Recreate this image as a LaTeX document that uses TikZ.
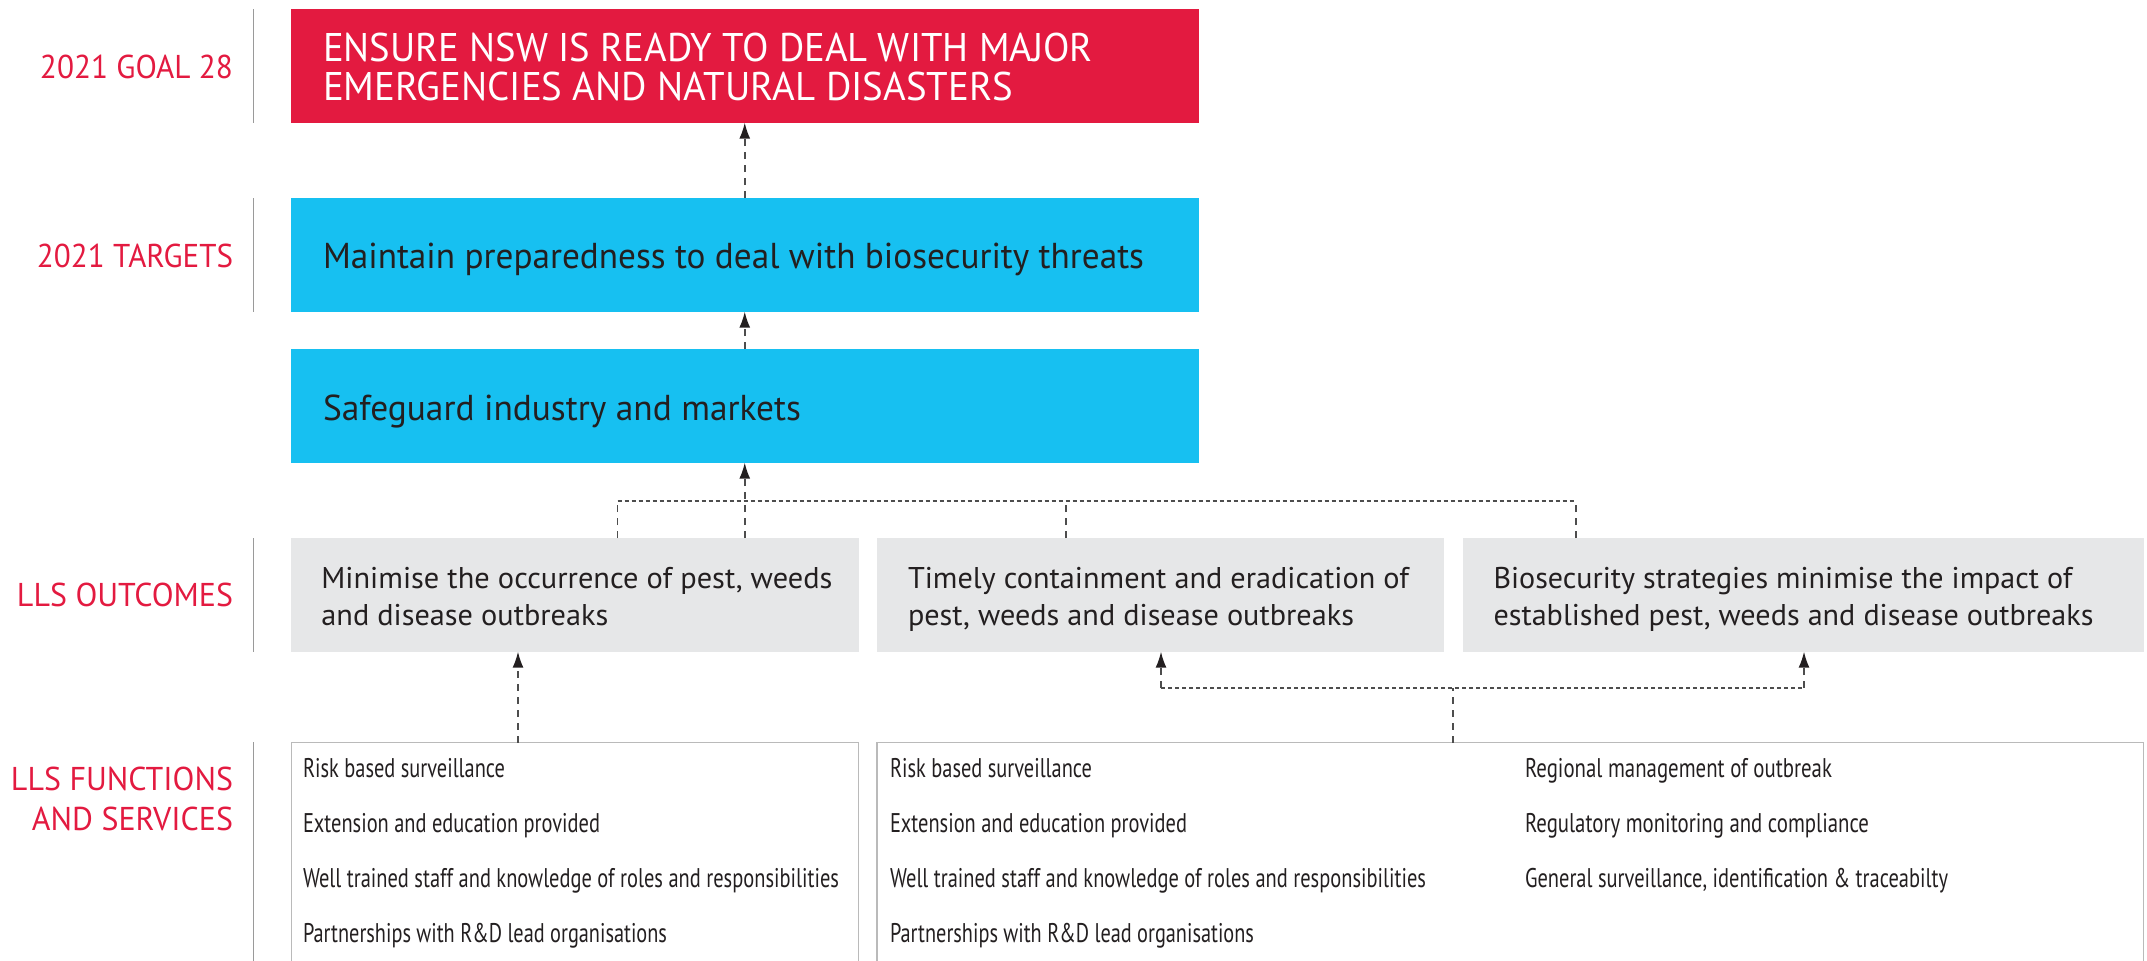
\documentclass[tikz,border=0pt]{standalone}
\usepackage{fontspec}
\setmainfont{PT Sans}
\usetikzlibrary{arrows.meta}
\definecolor{nswred}{HTML}{E31A40}
\definecolor{nswblue}{HTML}{17C0F1}
\definecolor{boxgray}{HTML}{E6E7E8}
\definecolor{ink}{HTML}{231F20}
\definecolor{rulegray}{HTML}{9A9A9A}
\definecolor{bordergray}{HTML}{BABABA}
\definecolor{linkgray}{HTML}{4D4D4D}
\newcommand\fw[2]{\resizebox{#1pt}{\height}{#2}}
\begin{document}
\begin{tikzpicture}[x=1pt,y=-1pt,
  every node/.style={inner sep=0pt, outer sep=0pt},
  lbl/.style={anchor=base east, text=nswred, font=\fontsize{33}{40}\selectfont},
  sep/.style={draw=rulegray, line width=1pt},
  rect/.style={anchor=north west, draw=none},
  redbox/.style={rect, fill=nswred},
  bluebox/.style={rect, fill=nswblue},
  graybox/.style={rect, fill=boxgray},
  listbox/.style={rect, draw=bordergray, line width=1.5pt, fill=white},
  goaltxt/.style={anchor=base west, text=white, font=\fontsize{40}{40}\selectfont},
  targettxt/.style={anchor=base west, text=ink, font=\fontsize{36}{40}\selectfont},
  outtxt/.style={anchor=base west, text=ink, font=\fontsize{30}{36}\selectfont},
  ftxt/.style={anchor=base west, text=ink, font=\fontsize{27}{32}\selectfont},
  link/.style={draw=linkgray, line width=1.5pt, dash pattern=on 7pt off 6pt},
  bus/.style={draw=linkgray, line width=1.5pt, dash pattern=on 4pt off 3pt},
  tip/.style={-{Latex[length=16pt,width=11pt,color=ink,fill=ink]}}
]
\useasboundingbox (0,0) rectangle (2147,961);

% row labels and separators
\node[lbl] (lgoal) at (233,78) {\fw{193}{2021 GOAL 28}};
\node[lbl] (ltarget) at (233,267) {\fw{196}{2021 TARGETS}};
\node[lbl] (lout) at (233,606) {\fw{216}{LLS OUTCOMES}};
\node[lbl] (lfun1) at (233,790) {\fw{222}{LLS FUNCTIONS}};
\node[lbl] (lfun2) at (233,830) {\fw{201}{AND SERVICES}};
\draw[sep] (253,9) -- (253,122.7);
\draw[sep] (253,198) -- (253,311.7);
\draw[sep] (253,538) -- (253,651.7);
\draw[sep] (253,742) -- (253,961);

% goal
\node[redbox, minimum width=908.5pt, minimum height=113.7pt] (goal) at (290.5,9) {};
\node[goaltxt] (goal1) at (323,61) {\fw{770}{ENSURE NSW IS READY TO DEAL WITH MAJOR}};
\node[goaltxt] (goal2) at (323,100) {\fw{690}{EMERGENCIES AND NATURAL DISASTERS}};

% targets
\node[bluebox, minimum width=908.5pt, minimum height=113.7pt] (t1) at (290.5,198) {};
\node[targettxt] (t1a) at (323,268) {\fw{821}{Maintain preparedness to deal with biosecurity threats}};
\node[bluebox, minimum width=908.5pt, minimum height=113.7pt] (t2) at (290.5,349) {};
\node[targettxt] (t2a) at (323,420) {\fw{478}{Safeguard industry and markets}};

% outcomes
\node[graybox, minimum width=567.6pt, minimum height=113.7pt] (o1) at (291,538) {};
\node[outtxt] (o1a) at (321.4,588) {\fw{511}{Minimise the occurrence of pest, weeds}};
\node[outtxt] (o1b) at (321.4,625) {\fw{287}{and disease outbreaks}};
\node[graybox, minimum width=567pt, minimum height=113.7pt] (o2) at (877,538) {};
\node[outtxt] (o2a) at (908,588) {\fw{501}{Timely containment and eradication of}};
\node[outtxt] (o2b) at (908,625) {\fw{446}{pest, weeds and disease outbreaks}};
\node[graybox, minimum width=681pt, minimum height=113.7pt] (o3) at (1463,538) {};
\node[outtxt] (o3a) at (1493.5,588) {\fw{579}{Biosecurity strategies minimise the impact of}};
\node[outtxt] (o3b) at (1493.5,625) {\fw{600}{established pest, weeds and disease outbreaks}};

% functions and services
\node[listbox, minimum width=567pt, minimum height=260pt] (f1) at (291.5,742.5) {};
\node[ftxt] (f1a) at (303,777) {\fw{202}{Risk based surveillance}};
\node[ftxt] (f1b) at (303,832) {\fw{297}{Extension and education provided}};
\node[ftxt] (f1c) at (303,887) {\fw{536}{Well trained staff and knowledge of roles and responsibilities}};
\node[ftxt] (f1d) at (303,942) {\fw{364}{Partnerships with R\&D lead organisations}};
\node[listbox, minimum width=1266.5pt, minimum height=260pt] (f2) at (877,742.5) {};
\node[ftxt] (f2a) at (890,777) {\fw{202}{Risk based surveillance}};
\node[ftxt] (f2b) at (890,832) {\fw{297}{Extension and education provided}};
\node[ftxt] (f2c) at (890,887) {\fw{536}{Well trained staff and knowledge of roles and responsibilities}};
\node[ftxt] (f2d) at (890,942) {\fw{364}{Partnerships with R\&D lead organisations}};
\node[ftxt] (f2e) at (1525,777) {\fw{307}{Regional management of outbreak}};
\node[ftxt] (f2f) at (1525,832) {\fw{344}{Regulatory monitoring and compliance}};
\node[ftxt] (f2g) at (1525,887) {\fw{423}{General surveillance, identification \& traceabilty}};

% connectors: upper chain
\draw[link, tip] (t1.north) -- (goal.south);
\draw[link, tip] (t2.north) -- (t1.south);
\draw[link, tip] (o1.north -| t2.south) -- (t2.south);
\coordinate (busL) at (617.6,501);
\coordinate (busM) at (1066,501);
\coordinate (busR) at (1576,501);
\draw[bus] (busL) -- (busR);
\draw[link] (o1.north -| busL) -- (busL);
\draw[link] (o2.north -| busM) -- (busM);
\draw[link] (o3.north -| busR) -- (busR);

% connectors: functions to outcomes
\coordinate (fa) at (518,742);
\draw[link, tip] (f1.north -| fa) -- (o1.south -| fa);
\coordinate (busB) at (1453,688);
\coordinate (bL) at (1161,688);
\coordinate (bR) at (1804,688);
\draw[link] (f2.north -| busB) -- (busB);
\draw[bus] (bL) -- (bR);
\draw[link, tip] (bL) -- (o2.south -| bL);
\draw[link, tip] (bR) -- (o3.south -| bR);
\end{tikzpicture}
\end{document}
